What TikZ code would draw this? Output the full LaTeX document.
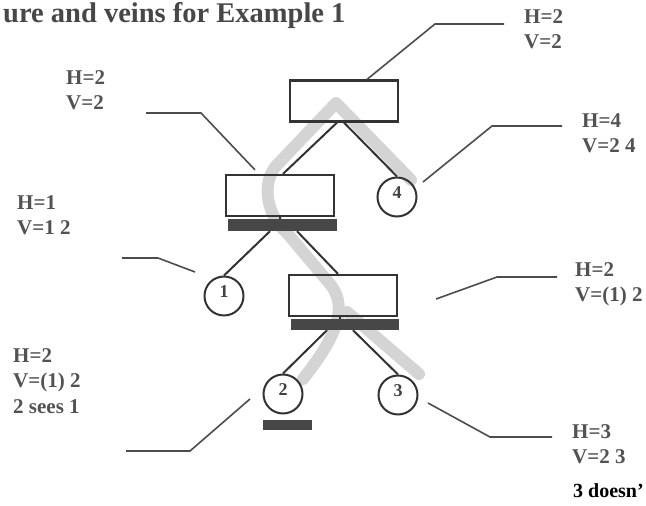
\documentclass[tikz,border=0pt]{standalone}
\usepackage{fontspec}
\setmainfont{Liberation Serif}
\usetikzlibrary{calc}

\begin{document}
\begin{tikzpicture}[x=1pt,y=-1pt,
  box/.style={draw=black!80,line width=2.2pt,minimum width=108pt,minimum height=41pt,inner sep=0pt},
  bar/.style={fill=black!72,inner sep=0pt},
  leaf/.style={draw=black!80,line width=2pt,circle,minimum size=39pt,inner sep=0pt,text height=12pt,text depth=10pt,text=black!75,font=\fontsize{18}{18}\selectfont\bfseries},
  edge/.style={black!80,line width=2pt},
  lead/.style={black!70,line width=1.6pt},
  vein/.style={black!17,line width=12pt,line cap=round,line join=round},
  tag/.style={anchor=north west,align=left,inner sep=0pt,text=black!68,font=\fontsize{21}{25.5}\selectfont\bfseries}]
\useasboundingbox (0,0) rectangle (646,506);
\draw[vein] (411,180) -- (336,103) -- (276,166) .. controls (261,184) and (267,216) .. (287,233) -- (330,284) .. controls (346,304) and (342,330) .. (303,379);
\draw[vein] (347,312) -- (419,374);
\node[anchor=base west,inner sep=0pt,text=black!72,font=\fontsize{28.5}{28.5}\selectfont\bfseries] (ttl) at (3,23) {ure and veins for Example 1};
\node[box] (nT) at (344,101) {};
\node[box] (nM) at (280,195.5) {};
\node[box] (nL) at (343,295.5) {};
\node[bar,minimum width=109pt,minimum height=12pt] (nMb) at (282.5,225) {};
\node[bar,minimum width=108pt,minimum height=11pt] (nLb) at (345,324.5) {};
\node[bar,minimum width=49pt,minimum height=10pt] (n2b) at (287.5,425) {};
\node[leaf] (n4) at (397,197) {4};
\node[leaf] (n1) at (224,296) {1};
\node[leaf] (n2) at (283,394) {2};
\node[leaf] (n3) at (398,395) {3};
\draw[edge] ([xshift=-7pt]nT.south) -- ([xshift=3pt]nM.north);
\draw[edge] (nT.south) -- (n4.north);
\draw[edge] (nM.south) -- (nM.south |- nMb.north);
\draw[edge] ([xshift=-12.5pt]nMb.south) -- (n1.north);
\draw[edge] ([xshift=14.5pt]nMb.south) -- ([xshift=-5pt]nL.north);
\draw[edge] ([xshift=-3pt]nL.south) -- ([xshift=-3pt]nL.south |- nLb.north);
\draw[edge] ([xshift=-18pt]nLb.south) -- (n2.north);
\draw[edge] ([xshift=8pt]nLb.south) -- (n3.north);
\node[tag] (lT) at (524,9) {H=2\\V=2};
\node[tag] (lM) at (66,70) {H=2\\V=2};
\node[tag] (l4) at (582,113) {H=4\\V=2 4};
\node[tag] (l1) at (17,195) {H=1\\V=1 2};
\node[tag] (lL) at (575,262) {H=2\\V=(1) 2};
\node[tag] (l2) at (13,348) {H=2\\V=(1) 2\\2 sees 1};
\node[tag] (l3) at (572,424) {H=3\\V=2 3};
\node[anchor=base west,inner sep=0pt,font=\fontsize{20}{20}\selectfont\bfseries] (note) at (573,497) {3 doesn'};
\draw[lead] ([xshift=23pt]nT.north) -- (435,24) -- ([shift={(-20pt,-15pt)}]lT.north west);
\draw[lead] ([shift={(80pt,-43pt)}]lM.north west) -- (201,113) -- ([shift={(-25pt,4pt)}]nM.north);
\draw[lead] ([shift={(26pt,15pt)}]n4.center) -- (492,126) -- ([shift={(-20pt,-13pt)}]l4.north west);
\draw[lead] ([shift={(105pt,-63pt)}]l1.north west) -- (158,258) -- ([shift={(-29pt,24pt)}]n1.center);
\draw[lead] ([shift={(38pt,-3.5pt)}]nL.east) -- (497,277) -- ([shift={(-18pt,-15pt)}]lL.north west);
\draw[lead] ([shift={(-33pt,-5pt)}]n2.center) -- (190,451) -- ([shift={(113pt,-103pt)}]l2.north west);
\draw[lead] ([shift={(30pt,-8pt)}]n3.center) -- (490,437) -- ([shift={(-20pt,-13pt)}]l3.north west);
\end{tikzpicture}
\end{document}
